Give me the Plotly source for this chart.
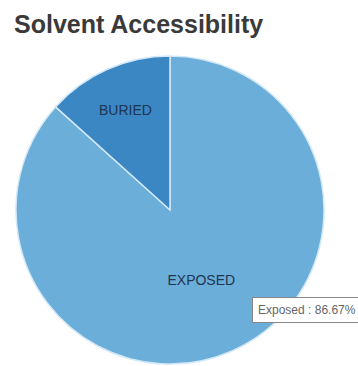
import plotly.graph_objects as go

labels = ["EXPOSED", "BURIED"]
values = [86.67, 13.33]
colors = ["#6aaed9", "#3a87c4"]
title_text = "Solvent Accessibility"
tooltip_label = "Exposed"

fig = go.Figure(go.Pie(
    labels=labels,
    values=values,
    sort=False,
    direction="clockwise",
    rotation=0,
    marker=dict(colors=colors, line=dict(color="#d2e8f6", width=1.5)),
    textinfo="label",
    textposition="inside",
    insidetextorientation="horizontal",
    textfont=dict(family="Liberation Sans, Arial", size=14, color="#1f3550"),
    hoverinfo="none",
    showlegend=False,
    domain=dict(x=[16 / 358, 324 / 358], y=[2 / 366, 310 / 366]),
))

fig.add_annotation(
    x=252 / 358, y=1 - 309.5 / 366, xref="paper", yref="paper",
    xanchor="left", yanchor="middle",
    text=f"{tooltip_label} : {values[0]:.2f}%",
    showarrow=False,
    font=dict(family="Liberation Sans, Arial", size=12, color="#666"),
    bgcolor="white", bordercolor="#888", borderwidth=1, borderpad=5,
)

fig.update_layout(
    width=358, height=366,
    margin=dict(l=0, r=0, t=0, b=0),
    paper_bgcolor="white",
    plot_bgcolor="white",
    title=dict(
        text=f"<b>{title_text}</b>",
        x=14 / 358, xanchor="left",
        y=1 - 24 / 366, yanchor="middle",
        font=dict(family="Liberation Sans, Arial", size=25, color="#3a3a3a"),
    ),
)

fig.write_html("out.html")
